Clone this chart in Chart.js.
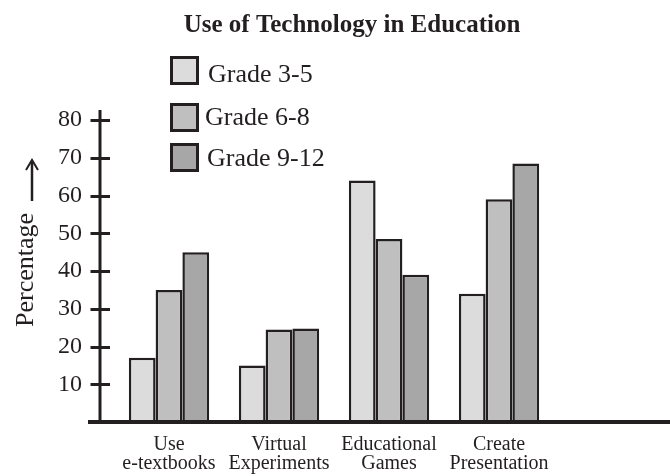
<!DOCTYPE html>
<html><head><meta charset="utf-8">
<script src="https://cdn.jsdelivr.net/npm/chart.js@4"></script>
<style>html,body{margin:0;padding:0;background:#fff}#wrap{width:670px;height:476px;position:relative}</style>
</head><body><div id="wrap"><canvas id="c" width="670" height="476"></canvas></div>
<script>
const chartTitle = 'Use of Technology in Education';
const categories = [['Use', 'e-textbooks'], ['Virtual', 'Experiments'], ['Educational', 'Games'], ['Create', 'Presentation']];
const seriesNames = ['Grade 3-5', 'Grade 6-8', 'Grade 9-12'];
const grade3to5 = [17, 15, 64, 34];
const grade6to8 = [35, 24.5, 48.5, 59];
const grade9to12 = [45, 24.8, 39, 68.5];
const yTicks = [10, 20, 30, 40, 50, 60, 70, 80];
const yAxisTitle = 'Percentage';

const INK = '#231f20';
const SERIF = '"Liberation Serif", "Times New Roman", serif';
const fills = ['#dcdcdc', '#bfbfbf', '#a7a7a7'];
const legendTops = [56, 103, 143];
const legendTextX = [208, 205, 207];
const legendBaselines = [82, 125, 166];

const decor = {
  id: 'decor',
  afterDatasetsDraw(chart) {
    const ctx = chart.ctx;
    const y = chart.scales.y;
    const area = chart.chartArea;
    const axisX = area.left - 14;
    ctx.save();
    ctx.strokeStyle = INK;
    ctx.fillStyle = INK;
    ctx.lineWidth = 3;
    ctx.beginPath();
    ctx.moveTo(axisX, y.getPixelForValue(yTicks[yTicks.length - 1]) - 10);
    ctx.lineTo(axisX, y.getPixelForValue(0));
    ctx.stroke();
    yTicks.forEach(v => {
      const py = Math.round(y.getPixelForValue(v)) + 0.5;
      ctx.beginPath();
      ctx.moveTo(axisX - 9.5, py);
      ctx.lineTo(axisX + 10, py);
      ctx.stroke();
    });
    ctx.lineWidth = 4;
    ctx.beginPath();
    const by = y.getPixelForValue(0);
    ctx.moveTo(axisX - 12, by);
    ctx.lineTo(chart.width, by);
    ctx.stroke();
    ctx.restore();
  },
  afterDraw(chart) {
    const ctx = chart.ctx;
    ctx.save();
    ctx.fillStyle = INK;
    ctx.font = 'bold 25px ' + SERIF;
    ctx.textAlign = 'center';
    ctx.textBaseline = 'alphabetic';
    ctx.fillText(chartTitle, 352, 32);
    chart.data.datasets.forEach((ds, i) => {
      const t = legendTops[i];
      ctx.fillStyle = ds.backgroundColor;
      ctx.fillRect(170, t, 29, 29);
      ctx.strokeStyle = INK;
      ctx.lineWidth = 3;
      ctx.strokeRect(171.5, t + 1.5, 26, 26);
      ctx.fillStyle = INK;
      ctx.font = '26px ' + SERIF;
      ctx.textAlign = 'left';
      ctx.fillText(ds.label, legendTextX[i], legendBaselines[i]);
    });
    ctx.save();
    ctx.translate(33, 270);
    ctx.rotate(-Math.PI / 2);
    ctx.font = '26px ' + SERIF;
    ctx.textAlign = 'center';
    ctx.fillText(yAxisTitle, 0, 0);
    ctx.restore();
    ctx.strokeStyle = INK;
    ctx.lineWidth = 2.5;
    ctx.beginPath();
    ctx.moveTo(32, 201);
    ctx.lineTo(32, 161);
    ctx.stroke();
    ctx.lineWidth = 2;
    ctx.beginPath();
    ctx.moveTo(26, 170);
    ctx.lineTo(32, 160);
    ctx.lineTo(38, 170);
    ctx.stroke();
    ctx.restore();
  }
};

const datasets = [grade3to5, grade6to8, grade9to12].map((d, i) => ({
  label: seriesNames[i],
  data: d,
  backgroundColor: fills[i],
  borderColor: INK,
  borderWidth: 2.5,
  borderSkipped: 'bottom',
  categoryPercentage: 0.73,
  barPercentage: 1.0
}));

new Chart(document.getElementById('c'), {
  type: 'bar',
  data: { labels: categories, datasets },
  options: {
    responsive: false,
    devicePixelRatio: 1,
    animation: false,
    layout: { padding: { top: 120, right: 116, left: 0, bottom: 0 } },
    plugins: { legend: { display: false }, title: { display: false }, tooltip: { enabled: false } },
    scales: {
      x: {
        grid: { display: false },
        border: { display: false },
        ticks: { color: INK, font: { family: SERIF, size: 20, lineHeight: 0.96 }, padding: 5, maxRotation: 0, autoSkip: false },
        afterFit(s) { s.height = 54; }
      },
      y: {
        min: 0, max: 80,
        grid: { display: false },
        border: { display: false },
        ticks: {
          stepSize: 10, color: INK, padding: 24,
          font: { family: SERIF, size: 24 },
          callback: v => yTicks.includes(v) ? String(v) : ''
        },
        afterFit(s) { s.width = 114; }
      }
    }
  },
  plugins: [decor]
});
</script>
</body></html>
